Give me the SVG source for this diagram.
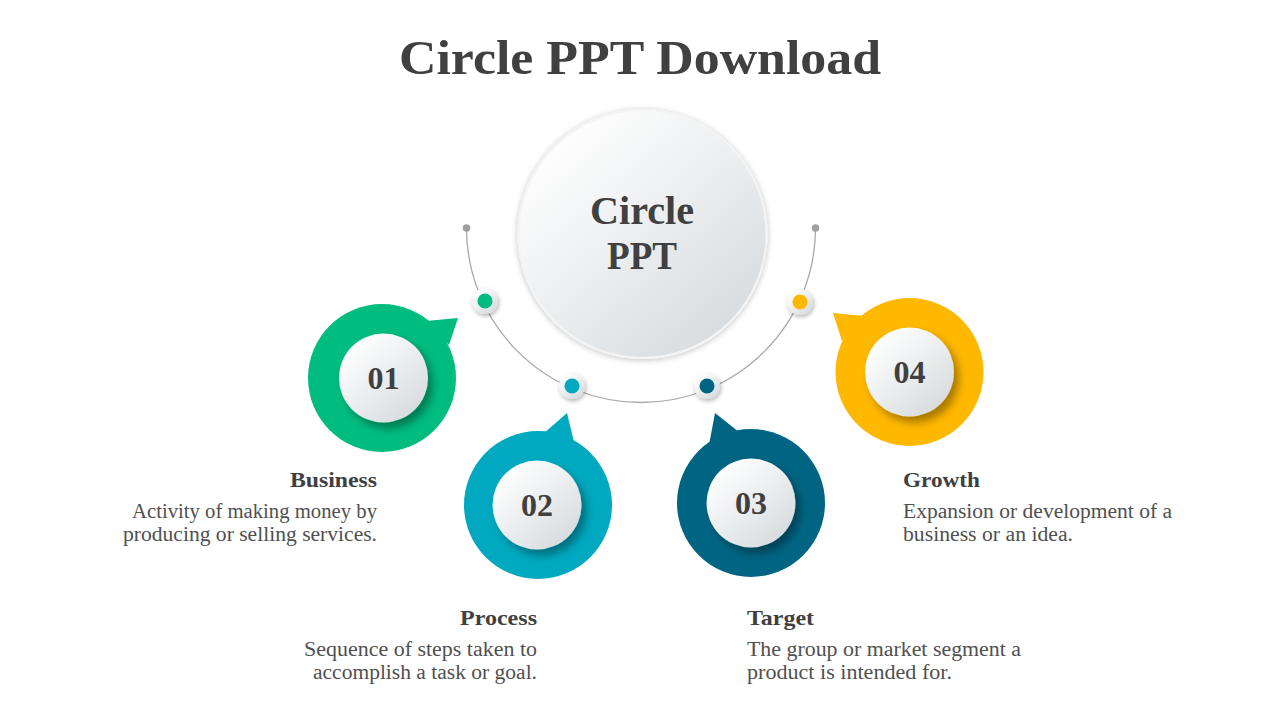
<svg xmlns="http://www.w3.org/2000/svg" width="1280" height="720" viewBox="0 0 1280 720">
<defs>
  <linearGradient id="wg" x1="0.15" y1="0.1" x2="0.85" y2="0.9">
    <stop offset="0" stop-color="#ffffff"/>
    <stop offset="1" stop-color="#d8dcdf"/>
  </linearGradient>
  <filter id="sh" x="-30%" y="-30%" width="170%" height="170%">
    <feGaussianBlur in="SourceAlpha" stdDeviation="4"/>
    <feOffset dx="5" dy="6" result="b"/>
    <feComponentTransfer><feFuncA type="linear" slope="0.35"/></feComponentTransfer>
    <feMerge><feMergeNode/><feMergeNode in="SourceGraphic"/></feMerge>
  </filter>
  <filter id="shc" x="-30%" y="-30%" width="160%" height="160%">
    <feGaussianBlur in="SourceAlpha" stdDeviation="3"/>
    <feOffset dx="0" dy="1"/>
    <feComponentTransfer><feFuncA type="linear" slope="0.25"/></feComponentTransfer>
    <feMerge><feMergeNode/><feMergeNode in="SourceGraphic"/></feMerge>
  </filter>
  <filter id="shs" x="-50%" y="-50%" width="200%" height="200%">
    <feGaussianBlur in="SourceAlpha" stdDeviation="2"/>
    <feOffset dx="1" dy="2"/>
    <feComponentTransfer><feFuncA type="linear" slope="0.3"/></feComponentTransfer>
    <feMerge><feMergeNode/><feMergeNode in="SourceGraphic"/></feMerge>
  </filter>
</defs>
<style>
  .title{font-family:"Liberation Serif",serif;font-weight:bold;font-size:48px;fill:#404040}
  .num{font-family:"Liberation Serif",serif;font-weight:bold;font-size:32px;fill:#404040}
  .center{font-family:"Liberation Serif",serif;font-weight:bold;font-size:39px;fill:#404040}
  .head{font-family:"Liberation Serif",serif;font-weight:bold;font-size:21px;fill:#404040}
  .desc{font-family:"Liberation Serif",serif;font-size:20px;fill:#505050}
  .inner{fill:url(#wg)}
</style>
<rect width="1280" height="720" fill="#ffffff"/>
<text class="title" x="640" y="74" text-anchor="middle" textLength="482" lengthAdjust="spacingAndGlyphs">Circle PPT Download</text>

<g id="connectors">
  <path d="M466.5,228 A174.5,174.5 0 0 0 815.5,228" fill="none" stroke="#a8a8a8" stroke-width="1.3"/>
  <circle cx="466.5" cy="228" r="3.8" fill="#a0a0a0"/>
  <circle cx="815.5" cy="228" r="3.8" fill="#a0a0a0"/>
</g>

<g id="center">
  <circle cx="642.5" cy="234" r="124" fill="url(#wg)" stroke="#f4f4f4" stroke-width="2" filter="url(#shc)"/>
  <text class="center" x="642" y="224" text-anchor="middle" textLength="104" lengthAdjust="spacingAndGlyphs">Circle</text>
  <text class="center" x="642" y="269" text-anchor="middle" textLength="70" lengthAdjust="spacingAndGlyphs">PPT</text>
</g>

<g id="dots">
  <g filter="url(#shs)"><circle cx="485" cy="301" r="13" fill="url(#wg)"/></g>
  <circle cx="485" cy="301" r="7.5" fill="#00bc7e"/>
  <g filter="url(#shs)"><circle cx="572" cy="386" r="13" fill="url(#wg)"/></g>
  <circle cx="572" cy="386" r="7.5" fill="#00a9c0"/>
  <g filter="url(#shs)"><circle cx="707" cy="386" r="13" fill="url(#wg)"/></g>
  <circle cx="707" cy="386" r="7.5" fill="#006583"/>
  <g filter="url(#shs)"><circle cx="800" cy="302" r="13" fill="url(#wg)"/></g>
  <circle cx="800" cy="302" r="7.5" fill="#ffb800"/>
</g>

<g id="node01">
  <circle cx="382" cy="378" r="74" fill="#00bc7e"/>
  <polygon points="426,321 458,318 449,345" fill="#00bc7e"/>
  <circle class="inner" cx="383.5" cy="378" r="44.5" filter="url(#sh)"/>
  <text class="num" x="383.5" y="389" text-anchor="middle">01</text>
  <text class="head" x="377" y="487" text-anchor="end" textLength="87" lengthAdjust="spacingAndGlyphs">Business</text>
  <text class="desc" x="377" y="518" text-anchor="end" textLength="245" lengthAdjust="spacingAndGlyphs">Activity of making money by</text>
  <text class="desc" x="377" y="541" text-anchor="end" textLength="254" lengthAdjust="spacingAndGlyphs">producing or selling services.</text>
</g>

<g id="node02">
  <circle cx="538" cy="505" r="74" fill="#00a9c0"/>
  <polygon points="543,434 567,413 574,442" fill="#00a9c0"/>
  <circle class="inner" cx="537" cy="505" r="44.5" filter="url(#sh)"/>
  <text class="num" x="537" y="516" text-anchor="middle">02</text>
  <text class="head" x="537" y="625" text-anchor="end" textLength="77" lengthAdjust="spacingAndGlyphs">Process</text>
  <text class="desc" x="537" y="656" text-anchor="end" textLength="233" lengthAdjust="spacingAndGlyphs">Sequence of steps taken to</text>
  <text class="desc" x="537" y="679" text-anchor="end" textLength="224" lengthAdjust="spacingAndGlyphs">accomplish a task or goal.</text>
</g>

<g id="node03">
  <circle cx="751" cy="503" r="74" fill="#006583"/>
  <polygon points="709,445 715,413 739,432" fill="#006583"/>
  <circle class="inner" cx="751" cy="503" r="44.5" filter="url(#sh)"/>
  <text class="num" x="751" y="514" text-anchor="middle">03</text>
  <text class="head" x="747" y="625" textLength="67" lengthAdjust="spacingAndGlyphs">Target</text>
  <text class="desc" x="747" y="656" textLength="274" lengthAdjust="spacingAndGlyphs">The group or market segment a</text>
  <text class="desc" x="747" y="679" textLength="205" lengthAdjust="spacingAndGlyphs">product is intended for.</text>
</g>

<g id="node04">
  <circle cx="909.5" cy="372" r="74" fill="#ffb800"/>
  <polygon points="864,316 833,313 842,341" fill="#ffb800"/>
  <circle class="inner" cx="909.5" cy="372" r="44.5" filter="url(#sh)"/>
  <text class="num" x="909.5" y="383" text-anchor="middle">04</text>
  <text class="head" x="903" y="487" textLength="77" lengthAdjust="spacingAndGlyphs">Growth</text>
  <text class="desc" x="903" y="518" textLength="269" lengthAdjust="spacingAndGlyphs">Expansion or development of a</text>
  <text class="desc" x="903" y="541" textLength="170" lengthAdjust="spacingAndGlyphs">business or an idea.</text>
</g>
</svg>
